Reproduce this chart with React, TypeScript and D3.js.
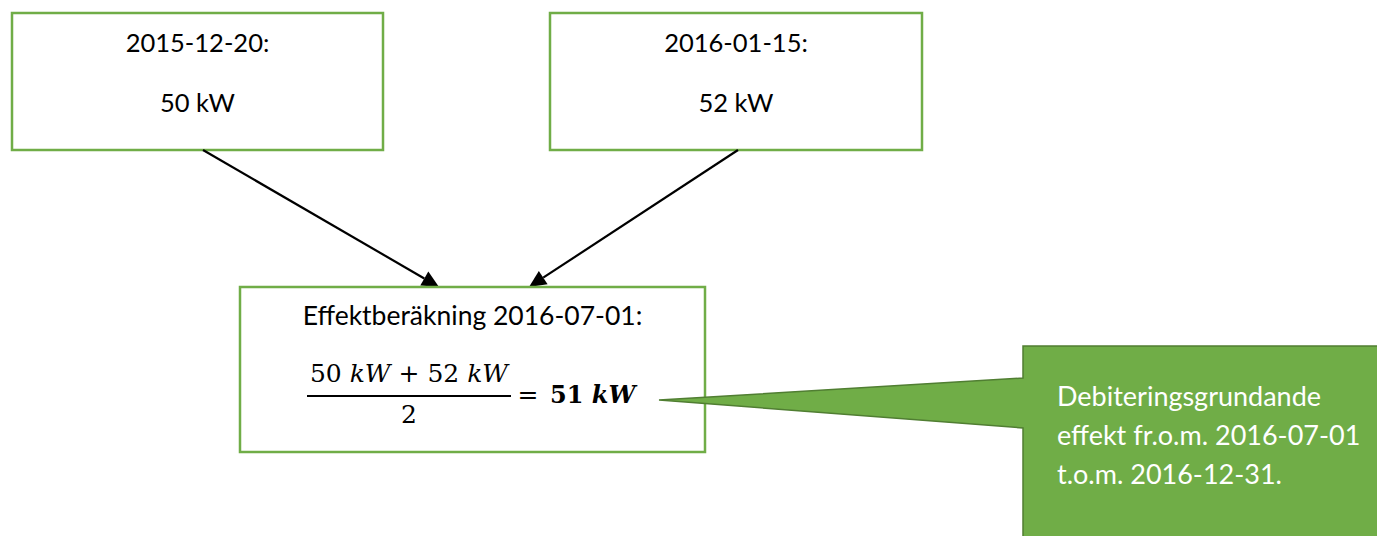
import React, { useEffect, useRef } from 'react';
import * as d3 from 'd3';

// Data
const readingDates = ['2015-12-20', '2016-01-15'];
const readingValues = [50, 52];
const unit = 'kW';
const calcDate = '2016-07-01';
const periodEnd = '2016-12-31';
const calloutLines = [
  'Debiteringsgrundande',
  `effekt fr.o.m. ${calcDate}`,
  `t.o.m. ${periodEnd}.`,
];

const GREEN = '#70AD47';
const DARK_GREEN = '#507E32';
const SANS = 'Lato, "Open Sans", sans-serif';
const SERIF = '"DejaVu Serif", serif';

const App = () => {
  const svgRef = useRef<SVGSVGElement>(null);

  useEffect(() => {
    const svg = d3.select(svgRef.current);
    svg.selectAll('*').remove();

    // Layout of the top boxes
    const topBoxes = [
      { x: 12, y: 13, w: 371, h: 137 },
      { x: 550, y: 13, w: 372, h: 137 },
    ];
    const calcBox = { x: 240, y: 287, w: 465, h: 165 };

    const tops = svg.selectAll('g.top')
      .data(readingDates.map((d, i) => ({ date: d, value: readingValues[i], box: topBoxes[i] })))
      .enter()
      .append('g')
      .attr('class', 'top');

    tops.append('rect')
      .attr('x', d => d.box.x)
      .attr('y', d => d.box.y)
      .attr('width', d => d.box.w)
      .attr('height', d => d.box.h)
      .attr('fill', '#fff')
      .attr('stroke', GREEN)
      .attr('stroke-width', 2.5);

    tops.append('text')
      .attr('x', d => d.box.x + d.box.w / 2)
      .attr('y', d => d.box.y + 39)
      .attr('text-anchor', 'middle')
      .style('font-family', SANS)
      .style('font-size', '25.5px')
      .text(d => `${d.date}:`);

    tops.append('text')
      .attr('x', d => d.box.x + d.box.w / 2)
      .attr('y', d => d.box.y + 99)
      .attr('text-anchor', 'middle')
      .style('font-family', SANS)
      .style('font-size', '25.5px')
      .text(d => `${d.value} ${unit}`);

    // Arrows
    const arrows = [
      { from: [203, 150], to: [439, 287] },
      { from: [738, 150], to: [529, 287] },
    ];
    const headLen = 17;
    const headHalf = 8;
    arrows.forEach(a => {
      const [x1, y1] = a.from;
      const [x2, y2] = a.to;
      const ang = Math.atan2(y2 - y1, x2 - x1);
      const bx = x2 - headLen * Math.cos(ang);
      const by = y2 - headLen * Math.sin(ang);
      svg.append('line')
        .attr('x1', x1).attr('y1', y1)
        .attr('x2', bx).attr('y2', by)
        .attr('stroke', '#000')
        .attr('stroke-width', 2.2);
      const p = d3.path();
      p.moveTo(x2, y2);
      p.lineTo(bx - headHalf * Math.sin(ang), by + headHalf * Math.cos(ang));
      p.lineTo(bx + headHalf * Math.sin(ang), by - headHalf * Math.cos(ang));
      p.closePath();
      svg.append('path').attr('d', p.toString()).attr('fill', '#000');
    });

    // Calculation box
    svg.append('rect')
      .attr('x', calcBox.x)
      .attr('y', calcBox.y)
      .attr('width', calcBox.w)
      .attr('height', calcBox.h)
      .attr('fill', 'none')
      .attr('stroke', GREEN)
      .attr('stroke-width', 2.5);

    svg.append('text')
      .attr('x', calcBox.x + calcBox.w / 2)
      .attr('y', 325)
      .attr('text-anchor', 'middle')
      .style('font-family', SANS)
      .style('font-size', '26.5px')
      .text(`Effektberäkning ${calcDate}:`);

    // Fraction
    const num = svg.append('text')
      .attr('x', 409)
      .attr('y', 382)
      .attr('text-anchor', 'middle')
      .style('font-family', SERIF)
      .style('font-size', '25px');
    readingValues.forEach((v, i) => {
      if (i > 0) num.append('tspan').text(' + ');
      num.append('tspan').text(`${v} `);
      num.append('tspan').style('font-style', 'italic').text(unit);
    });

    svg.append('line')
      .attr('x1', 307).attr('x2', 511)
      .attr('y1', 396).attr('y2', 396)
      .attr('stroke', '#000')
      .attr('stroke-width', 2);

    svg.append('text')
      .attr('x', 409)
      .attr('y', 423)
      .attr('text-anchor', 'middle')
      .style('font-family', SERIF)
      .style('font-size', '25px')
      .text(String(readingValues.length));

    svg.append('text')
      .attr('x', 528)
      .attr('y', 403)
      .attr('text-anchor', 'middle')
      .style('font-family', SERIF)
      .style('font-size', '25px')
      .text('=');

    const avg = d3.mean(readingValues) as number;
    const res = svg.append('text')
      .attr('x', 550)
      .attr('y', 403)
      .style('font-family', SERIF)
      .style('font-size', '24px')
      .style('font-weight', 'bold');
    res.append('tspan').text(`${avg} `);
    res.append('tspan').style('font-style', 'italic').text(unit);

    // Callout
    const cx = 1023, cy = 346;
    const callout = d3.path();
    callout.moveTo(cx, cy);
    callout.lineTo(1380, cy);
    callout.lineTo(1380, 540);
    callout.lineTo(cx, 540);
    callout.lineTo(cx, 428);
    callout.lineTo(659, 400);
    callout.lineTo(cx, 378);
    callout.closePath();
    svg.append('path')
      .attr('d', callout.toString())
      .attr('fill', GREEN)
      .attr('stroke', DARK_GREEN)
      .attr('stroke-width', 1.5)
      .attr('stroke-linejoin', 'miter');

    svg.selectAll('text.callout')
      .data(calloutLines)
      .enter()
      .append('text')
      .attr('class', 'callout')
      .attr('x', 1057)
      .attr('y', (d, i) => 406 + i * 39)
      .attr('fill', '#fff')
      .style('font-family', SANS)
      .style('font-size', '27px')
      .text(d => d);
  }, []);

  return (
    <svg
      ref={svgRef}
      width={1377}
      height={536}
      style={{ position: 'absolute', left: 0, top: 0, background: '#fff' }}
    />
  );
};

export default App;
